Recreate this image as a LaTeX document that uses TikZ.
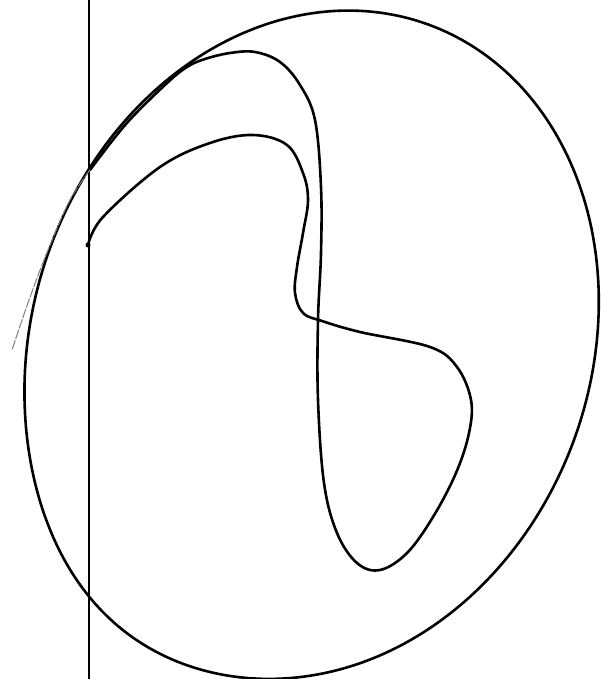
\documentclass[tikz,border=0pt]{standalone}
\begin{document}
\begin{tikzpicture}[x=1pt,y=-1pt,
  curve/.style={line width=2.6pt,line join=round,line cap=round},
  faint/.style={line width=1pt,black!50,dash pattern=on 9pt off 2pt,line cap=round}]
\useasboundingbox (0,0) rectangle (600,679);
\fill[white] (0,0) rectangle (600,679);
% vertical line
\coordinate (vt) at (89,0);
\coordinate (vb) at (89,679);
\draw[line width=1.9pt] (vt) -- (vb);
% outer closed curve: tilted ellipse, slightly fuller at the lower left
\draw[curve] plot[domain=0:360,samples=144,smooth cycle,variable=\t]
  ({312+340*cos(70)*cos(\t)+279*sin(70)*sin(\t)-0.45*8*((1+cos(\t-205))/2)^12},
   {344-340*sin(70)*cos(\t)+279*cos(70)*sin(\t)+0.89*8*((1+cos(\t-205))/2)^12});
% inner winding curve
\coordinate (dot) at (88,245);
\draw[curve] plot[smooth,tension=0.6] coordinates {
 (88,245) (103,217) (160,167) (210,143) (253,135) (287,145) (303,173)
 (308,200) (303,233) (297,267) (295,293) (303,313) (322,321) (360,332)
 (430,347) (457,367) (471,400) (469,433) (456,473) (433,517) (407,553)
 (380,570) (357,563) (337,533) (324,483) (318,400) (318,320) (321,253)
 (321,187) (315,120) (300,85) (280,62) (255,52) (230,53) (205,59)
 (187,67) (166,84) (126,124) (90,170)};
\fill (dot) circle (2.5pt);
% faint continuation outside the outer curve
\draw[faint] plot[smooth,tension=0.6] coordinates {
 (90,170) (70,200) (48,250) (29,300) (12,350)};
\end{tikzpicture}
\end{document}
